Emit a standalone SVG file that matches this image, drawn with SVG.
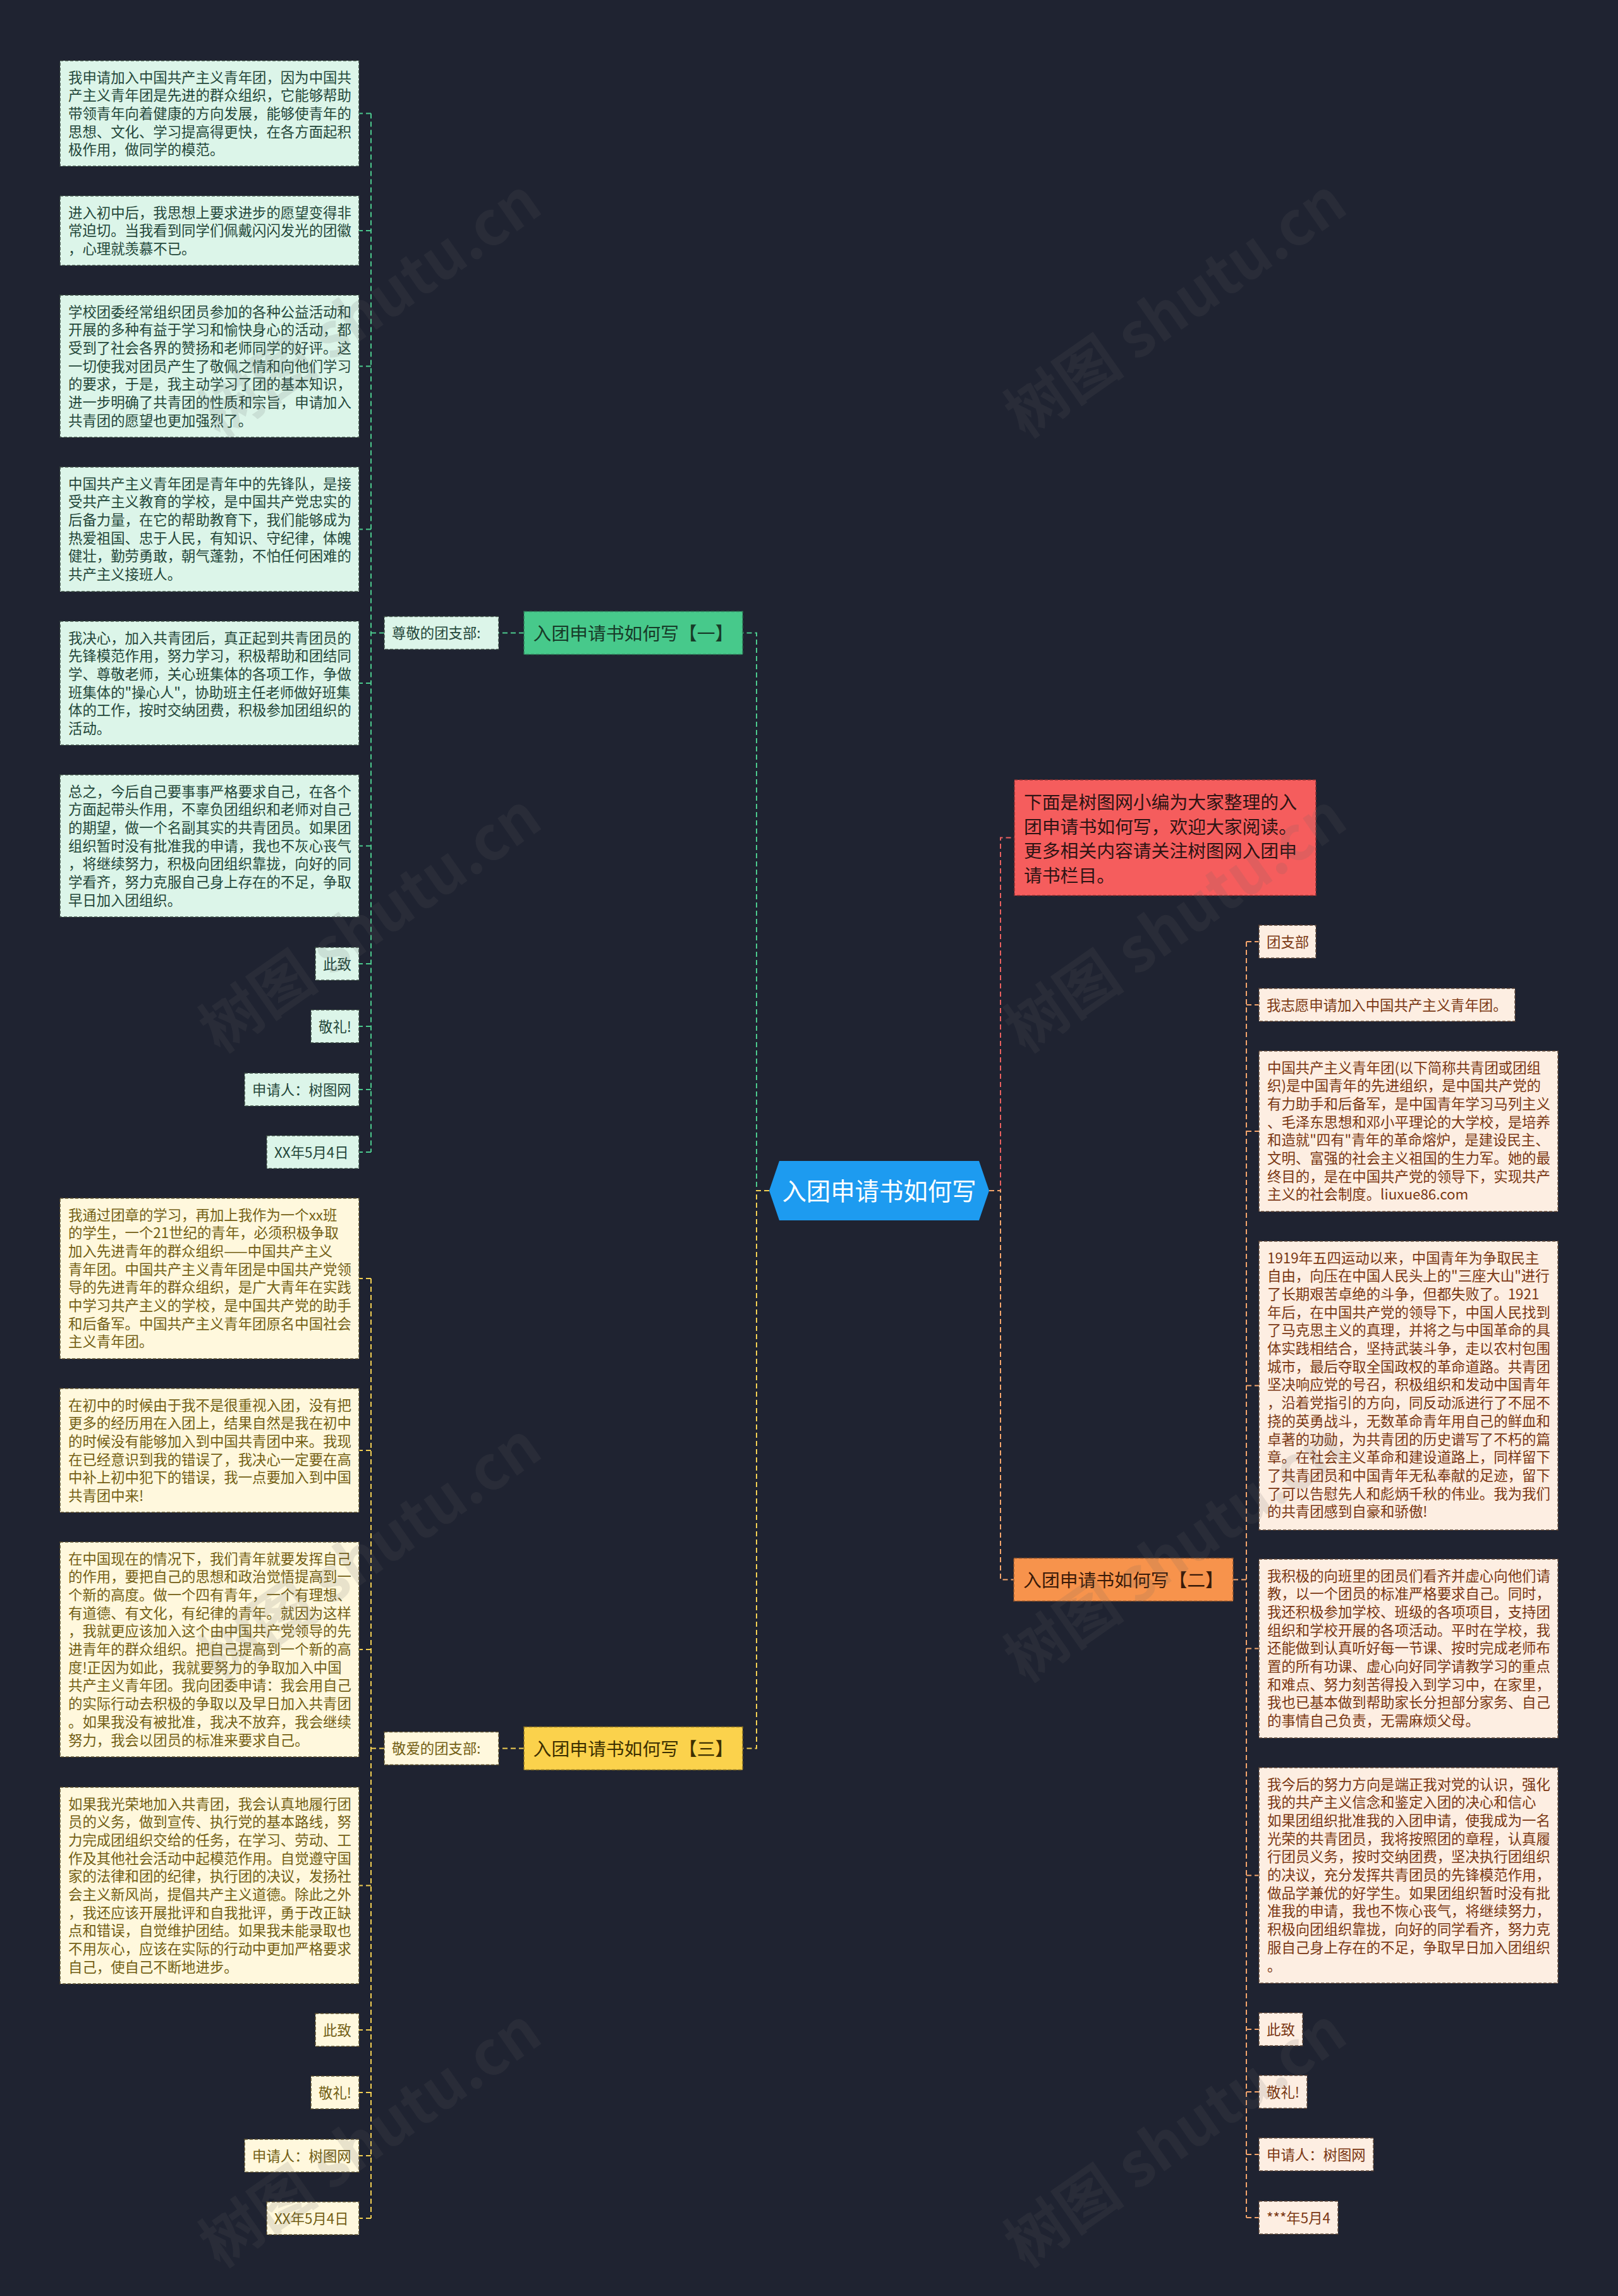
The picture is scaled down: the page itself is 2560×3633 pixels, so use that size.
<svg xmlns="http://www.w3.org/2000/svg" width="2560" height="3633" viewBox="0 0 2560 3633">
<style>
text{font-family:"Noto Sans CJK SC","Noto Sans",sans-serif;font-size:22.4px}
.bg{fill:#1f2331}
.ng rect{fill:#dcf5e9;stroke:#3a4a42;stroke-width:1.5;stroke-dasharray:5 3}
.ng text{fill:#24473a}
.ny rect{fill:#fff8dd;stroke:#5a4e2c;stroke-width:1.5;stroke-dasharray:5 3}
.ny text{fill:#735f14}
.no rect{fill:#fdeee2;stroke:#5e4536;stroke-width:1.5;stroke-dasharray:5 3}
.no text{fill:#7a3712}
.b1 rect{fill:#47c98b;stroke:#2f7a56;stroke-width:1.5;stroke-dasharray:5 3}
.b1 text{fill:#173a28;font-size:28.8px}
.b2 rect{fill:#f7934c;stroke:#8a5028;stroke-width:1.5;stroke-dasharray:5 3}
.b2 text{fill:#3a1a08;font-size:28.8px}
.b3 rect{fill:#fbd24c;stroke:#8a7220;stroke-width:1.5;stroke-dasharray:5 3}
.b3 text{fill:#3d3000;font-size:28.8px}
.intro rect{fill:#f55d5d;stroke:#8a2f2f;stroke-width:1.5;stroke-dasharray:5 3}
.intro text{fill:#2e1414;font-size:28.8px}
.c polygon{fill:#1d9bf0}
.c text{fill:#ffffff;font-size:38.4px}
.ln{fill:none;stroke-width:2;stroke-dasharray:8 5}
.lg{stroke:#4cc98d}.ly{stroke:#f2cf53}.lo{stroke:#f4a56c}.lr{stroke:#e86060}
.wm text{fill:#666;opacity:0.14;font-size:96px;font-weight:bold}
</style>
<rect class="bg" x="0" y="0" width="2560" height="3633"/>

<g id="connectors">
<path class="ln lg" d="M1217,1884 H1197 V1001.5 H1175 M829,1001.5 H789 M608,1001.5 H587 M587,179.5 V1823 M587,179.5 H568 M587,365 H568 M587,579.5 H568 M587,837.5 H568 M587,1081 H568 M587,1338.5 H568 M587,1525 H568 M587,1624 H568 M587,1724 H568 M587,1823 H568"/>
<path class="ln ly" d="M1217,1884 H1197 V2766.5 H1175 M829,2766.5 H789 M608,2766.5 H587 M587,2023 V3510 M587,2023 H568 M587,2295 H568 M587,2610 H568 M587,2983.5 H568 M587,3212 H568 M587,3311 H568 M587,3411 H568 M587,3510 H568"/>
<path class="ln lr" d="M1565,1884 H1583 V1325.5 H1605"/>
<path class="ln lo" d="M1565,1884 H1583 V2499.5 H1604 M1951,2499.5 H1972 M1972,1490 V3509 M1972,1490 H1992 M1972,1590 H1992 M1972,1790 H1992 M1972,2192.5 H1992 M1972,2608.5 H1992 M1972,2967.5 H1992 M1972,3211 H1992 M1972,3310 H1992 M1972,3409 H1992 M1972,3509 H1992"/>
</g>

<g id="center" class="c">
<polygon points="1217,1884 1233,1837 1549,1837 1565,1884 1549,1931 1233,1931"/>
<text x="1391" y="1898.5" text-anchor="middle">入团申请书如何写</text>
</g>

<g id="intro" class="intro">
<rect x="1605" y="1234" width="477" height="183"/>
<text x="1620" y="1280"><tspan x="1620">下面是树图网小编为大家整理的入</tspan><tspan x="1620" dy="38.6">团申请书如何写，欢迎大家阅读。</tspan><tspan x="1620" dy="38.6">更多相关内容请关注树图网入团申</tspan><tspan x="1620" dy="38.6">请书栏目。</tspan></text>
</g>

<g id="branch1" class="b1">
<rect x="829" y="967.5" width="346" height="68"/>
<text x="1002" y="1012.5" text-anchor="middle">入团申请书如何写【一】</text>
</g>
<g id="label1" class="ng">
<rect x="608" y="975.5" width="181" height="52"/>
<text x="620" y="1010">尊敬的团支部:</text>
</g>

<g id="g1" class="ng"><rect x="95" y="96" width="473" height="167"/>
<text x="108" y="130.5"><tspan x="108">我申请加入中国共产主义青年团，因为中国共</tspan><tspan x="108" dy="28.7">产主义青年团是先进的群众组织，它能够帮助</tspan><tspan x="108" dy="28.7">带领青年向着健康的方向发展，能够使青年的</tspan><tspan x="108" dy="28.7">思想、文化、学习提高得更快，在各方面起积</tspan><tspan x="108" dy="28.7">极作用，做同学的模范。</tspan></text></g>
<g id="g2" class="ng"><rect x="95" y="310" width="473" height="110"/>
<text x="108" y="344.5"><tspan x="108">进入初中后，我思想上要求进步的愿望变得非</tspan><tspan x="108" dy="28.7">常迫切。当我看到同学们佩戴闪闪发光的团徽</tspan><tspan x="108" dy="28.7">，心理就羡慕不已。</tspan></text></g>
<g id="g3" class="ng"><rect x="95" y="467" width="473" height="225"/>
<text x="108" y="501.5"><tspan x="108">学校团委经常组织团员参加的各种公益活动和</tspan><tspan x="108" dy="28.7">开展的多种有益于学习和愉快身心的活动，都</tspan><tspan x="108" dy="28.7">受到了社会各界的赞扬和老师同学的好评。这</tspan><tspan x="108" dy="28.7">一切使我对团员产生了敬佩之情和向他们学习</tspan><tspan x="108" dy="28.7">的要求，于是，我主动学习了团的基本知识，</tspan><tspan x="108" dy="28.7">进一步明确了共青团的性质和宗旨，申请加入</tspan><tspan x="108" dy="28.7">共青团的愿望也更加强烈了。</tspan></text></g>
<g id="g4" class="ng"><rect x="95" y="739" width="473" height="197"/>
<text x="108" y="773.5"><tspan x="108">中国共产主义青年团是青年中的先锋队，是接</tspan><tspan x="108" dy="28.7">受共产主义教育的学校，是中国共产党忠实的</tspan><tspan x="108" dy="28.7">后备力量，在它的帮助教育下，我们能够成为</tspan><tspan x="108" dy="28.7">热爱祖国、忠于人民，有知识、守纪律，体魄</tspan><tspan x="108" dy="28.7">健壮，勤劳勇敢，朝气蓬勃，不怕任何困难的</tspan><tspan x="108" dy="28.7">共产主义接班人。</tspan></text></g>
<g id="g5" class="ng"><rect x="95" y="983" width="473" height="196"/>
<text x="108" y="1017.5"><tspan x="108">我决心，加入共青团后，真正起到共青团员的</tspan><tspan x="108" dy="28.7">先锋模范作用，努力学习，积极帮助和团结同</tspan><tspan x="108" dy="28.7">学、尊敬老师，关心班集体的各项工作，争做</tspan><tspan x="108" dy="28.7">班集体的"操心人"，协助班主任老师做好班集</tspan><tspan x="108" dy="28.7">体的工作，按时交纳团费，积极参加团组织的</tspan><tspan x="108" dy="28.7">活动。</tspan></text></g>
<g id="g6" class="ng"><rect x="95" y="1226" width="473" height="225"/>
<text x="108" y="1260.5"><tspan x="108">总之，今后自己要事事严格要求自己，在各个</tspan><tspan x="108" dy="28.7">方面起带头作用，不辜负团组织和老师对自己</tspan><tspan x="108" dy="28.7">的期望，做一个名副其实的共青团员。如果团</tspan><tspan x="108" dy="28.7">组织暂时没有批准我的申请，我也不灰心丧气</tspan><tspan x="108" dy="28.7">，将继续努力，积极向团组织靠拢，向好的同</tspan><tspan x="108" dy="28.7">学看齐，努力克服自己身上存在的不足，争取</tspan><tspan x="108" dy="28.7">早日加入团组织。</tspan></text></g>
<g id="g7" class="ng"><rect x="499" y="1499" width="69" height="52"/><text x="511" y="1533.5">此致</text></g>
<g id="g8" class="ng"><rect x="492" y="1598" width="76" height="52"/><text x="504" y="1632.5">敬礼!</text></g>
<g id="g9" class="ng"><rect x="387" y="1698" width="181" height="52"/><text x="399" y="1732.5">申请人：树图网</text></g>
<g id="g10" class="ng"><rect x="422" y="1797" width="146" height="52"/><text x="434" y="1831.5">XX年5月4日</text></g>

<g id="branch3" class="b3">
<rect x="829" y="2732.5" width="346" height="68"/>
<text x="1002" y="2777.5" text-anchor="middle">入团申请书如何写【三】</text>
</g>
<g id="label3" class="ny">
<rect x="608" y="2740.5" width="181" height="52"/>
<text x="620" y="2775">敬爱的团支部:</text>
</g>

<g id="y1" class="ny"><rect x="95" y="1896" width="473" height="254"/>
<text x="108" y="1930.5"><tspan x="108">我通过团章的学习，再加上我作为一个xx班</tspan><tspan x="108" dy="28.7">的学生，一个21世纪的青年，必须积极争取</tspan><tspan x="108" dy="28.7">加入先进青年的群众组织——中国共产主义</tspan><tspan x="108" dy="28.7">青年团。中国共产主义青年团是中国共产党领</tspan><tspan x="108" dy="28.7">导的先进青年的群众组织，是广大青年在实践</tspan><tspan x="108" dy="28.7">中学习共产主义的学校，是中国共产党的助手</tspan><tspan x="108" dy="28.7">和后备军。中国共产主义青年团原名中国社会</tspan><tspan x="108" dy="28.7">主义青年团。</tspan></text></g>
<g id="y2" class="ny"><rect x="95" y="2197" width="473" height="196"/>
<text x="108" y="2231.5"><tspan x="108">在初中的时候由于我不是很重视入团，没有把</tspan><tspan x="108" dy="28.7">更多的经历用在入团上，结果自然是我在初中</tspan><tspan x="108" dy="28.7">的时候没有能够加入到中国共青团中来。我现</tspan><tspan x="108" dy="28.7">在已经意识到我的错误了，我决心一定要在高</tspan><tspan x="108" dy="28.7">中补上初中犯下的错误，我一点要加入到中国</tspan><tspan x="108" dy="28.7">共青团中来!</tspan></text></g>
<g id="y3" class="ny"><rect x="95" y="2440" width="473" height="340"/>
<text x="108" y="2474.5"><tspan x="108">在中国现在的情况下，我们青年就要发挥自己</tspan><tspan x="108" dy="28.7">的作用，要把自己的思想和政治觉悟提高到一</tspan><tspan x="108" dy="28.7">个新的高度。做一个四有青年，一个有理想、</tspan><tspan x="108" dy="28.7">有道德、有文化，有纪律的青年。就因为这样</tspan><tspan x="108" dy="28.7">，我就更应该加入这个由中国共产党领导的先</tspan><tspan x="108" dy="28.7">进青年的群众组织。把自己提高到一个新的高</tspan><tspan x="108" dy="28.7">度!正因为如此，我就要努力的争取加入中国</tspan><tspan x="108" dy="28.7">共产主义青年团。我向团委申请：我会用自己</tspan><tspan x="108" dy="28.7">的实际行动去积极的争取以及早日加入共青团</tspan><tspan x="108" dy="28.7">。如果我没有被批准，我决不放弃，我会继续</tspan><tspan x="108" dy="28.7">努力，我会以团员的标准来要求自己。</tspan></text></g>
<g id="y4" class="ny"><rect x="95" y="2828" width="473" height="311"/>
<text x="108" y="2862.5"><tspan x="108">如果我光荣地加入共青团，我会认真地履行团</tspan><tspan x="108" dy="28.7">员的义务，做到宣传、执行党的基本路线，努</tspan><tspan x="108" dy="28.7">力完成团组织交给的任务，在学习、劳动、工</tspan><tspan x="108" dy="28.7">作及其他社会活动中起模范作用。自觉遵守国</tspan><tspan x="108" dy="28.7">家的法律和团的纪律，执行团的决议，发扬社</tspan><tspan x="108" dy="28.7">会主义新风尚，提倡共产主义道德。除此之外</tspan><tspan x="108" dy="28.7">，我还应该开展批评和自我批评，勇于改正缺</tspan><tspan x="108" dy="28.7">点和错误，自觉维护团结。如果我未能录取也</tspan><tspan x="108" dy="28.7">不用灰心，应该在实际的行动中更加严格要求</tspan><tspan x="108" dy="28.7">自己，使自己不断地进步。</tspan></text></g>
<g id="y5" class="ny"><rect x="499" y="3186" width="69" height="52"/><text x="511" y="3220.5">此致</text></g>
<g id="y6" class="ny"><rect x="492" y="3285" width="76" height="52"/><text x="504" y="3319.5">敬礼!</text></g>
<g id="y7" class="ny"><rect x="387" y="3385" width="181" height="52"/><text x="399" y="3419.5">申请人：树图网</text></g>
<g id="y8" class="ny"><rect x="422" y="3484" width="146" height="52"/><text x="434" y="3518.5">XX年5月4日</text></g>

<g id="branch2" class="b2">
<rect x="1604" y="2465.5" width="347" height="68"/>
<text x="1777.5" y="2510.5" text-anchor="middle">入团申请书如何写【二】</text>
</g>

<g id="o1" class="no"><rect x="1992" y="1464" width="90" height="52"/><text x="2004" y="1498.5">团支部</text></g>
<g id="o2" class="no"><rect x="1992" y="1564" width="405" height="52"/><text x="2004" y="1598.5">我志愿申请加入中国共产主义青年团。</text></g>
<g id="o3" class="no"><rect x="1992" y="1663" width="473" height="254"/>
<text x="2005" y="1697.5"><tspan x="2005">中国共产主义青年团(以下简称共青团或团组</tspan><tspan x="2005" dy="28.7">织)是中国青年的先进组织，是中国共产党的</tspan><tspan x="2005" dy="28.7">有力助手和后备军，是中国青年学习马列主义</tspan><tspan x="2005" dy="28.7">、毛泽东思想和邓小平理论的大学校，是培养</tspan><tspan x="2005" dy="28.7">和造就"四有"青年的革命熔炉，是建设民主、</tspan><tspan x="2005" dy="28.7">文明、富强的社会主义祖国的生力军。她的最</tspan><tspan x="2005" dy="28.7">终目的，是在中国共产党的领导下，实现共产</tspan><tspan x="2005" dy="28.7">主义的社会制度。liuxue86.com</tspan></text></g>
<g id="o4" class="no"><rect x="1992" y="1964" width="473" height="457"/>
<text x="2005" y="1998.5"><tspan x="2005">1919年五四运动以来，中国青年为争取民主</tspan><tspan x="2005" dy="28.7">自由，向压在中国人民头上的"三座大山"进行</tspan><tspan x="2005" dy="28.7">了长期艰苦卓绝的斗争，但都失败了。1921</tspan><tspan x="2005" dy="28.7">年后，在中国共产党的领导下，中国人民找到</tspan><tspan x="2005" dy="28.7">了马克思主义的真理，并将之与中国革命的具</tspan><tspan x="2005" dy="28.7">体实践相结合，坚持武装斗争，走以农村包围</tspan><tspan x="2005" dy="28.7">城市，最后夺取全国政权的革命道路。共青团</tspan><tspan x="2005" dy="28.7">坚决响应党的号召，积极组织和发动中国青年</tspan><tspan x="2005" dy="28.7">，沿着党指引的方向，同反动派进行了不屈不</tspan><tspan x="2005" dy="28.7">挠的英勇战斗，无数革命青年用自己的鲜血和</tspan><tspan x="2005" dy="28.7">卓著的功勋，为共青团的历史谱写了不朽的篇</tspan><tspan x="2005" dy="28.7">章。在社会主义革命和建设道路上，同样留下</tspan><tspan x="2005" dy="28.7">了共青团员和中国青年无私奉献的足迹，留下</tspan><tspan x="2005" dy="28.7">了可以告慰先人和彪炳千秋的伟业。我为我们</tspan><tspan x="2005" dy="28.7">的共青团感到自豪和骄傲!</tspan></text></g>
<g id="o5" class="no"><rect x="1992" y="2467" width="473" height="283"/>
<text x="2005" y="2501.5"><tspan x="2005">我积极的向班里的团员们看齐并虚心向他们请</tspan><tspan x="2005" dy="28.7">教，以一个团员的标准严格要求自己。同时，</tspan><tspan x="2005" dy="28.7">我还积极参加学校、班级的各项项目，支持团</tspan><tspan x="2005" dy="28.7">组织和学校开展的各项活动。平时在学校，我</tspan><tspan x="2005" dy="28.7">还能做到认真听好每一节课、按时完成老师布</tspan><tspan x="2005" dy="28.7">置的所有功课、虚心向好同学请教学习的重点</tspan><tspan x="2005" dy="28.7">和难点、努力刻苦得投入到学习中，在家里，</tspan><tspan x="2005" dy="28.7">我也已基本做到帮助家长分担部分家务、自己</tspan><tspan x="2005" dy="28.7">的事情自己负责，无需麻烦父母。</tspan></text></g>
<g id="o6" class="no"><rect x="1992" y="2797" width="473" height="341"/>
<text x="2005" y="2831.5"><tspan x="2005">我今后的努力方向是端正我对党的认识，强化</tspan><tspan x="2005" dy="28.7">我的共产主义信念和鉴定入团的决心和信心</tspan><tspan x="2005" dy="28.7">如果团组织批准我的入团申请，使我成为一名</tspan><tspan x="2005" dy="28.7">光荣的共青团员，我将按照团的章程，认真履</tspan><tspan x="2005" dy="28.7">行团员义务，按时交纳团费，坚决执行团组织</tspan><tspan x="2005" dy="28.7">的决议，充分发挥共青团员的先锋模范作用，</tspan><tspan x="2005" dy="28.7">做品学兼优的好学生。如果团组织暂时没有批</tspan><tspan x="2005" dy="28.7">准我的申请，我也不恢心丧气，将继续努力，</tspan><tspan x="2005" dy="28.7">积极向团组织靠拢，向好的同学看齐，努力克</tspan><tspan x="2005" dy="28.7">服自己身上存在的不足，争取早日加入团组织</tspan><tspan x="2005" dy="28.7">。</tspan></text></g>
<g id="o7" class="no"><rect x="1992" y="3185" width="69" height="52"/><text x="2004" y="3219.5">此致</text></g>
<g id="o8" class="no"><rect x="1992" y="3284" width="76" height="52"/><text x="2004" y="3318.5">敬礼!</text></g>
<g id="o9" class="no"><rect x="1992" y="3383" width="181" height="52"/><text x="2004" y="3417.5">申请人：树图网</text></g>
<g id="o10" class="no"><rect x="1992" y="3483" width="125" height="52"/><text x="2004" y="3517.5">***年5月4</text></g>

<g id="watermarks" class="wm">
<text transform="translate(348,695) rotate(-35)">树图 shutu.cn</text>
<text transform="translate(1622,695) rotate(-35)">树图 shutu.cn</text>
<text transform="translate(348,1668) rotate(-35)">树图 shutu.cn</text>
<text transform="translate(1622,1668) rotate(-35)">树图 shutu.cn</text>
<text transform="translate(348,2664) rotate(-35)">树图 shutu.cn</text>
<text transform="translate(1622,2664) rotate(-35)">树图 shutu.cn</text>
<text transform="translate(348,3590) rotate(-35)">树图 shutu.cn</text>
<text transform="translate(1622,3590) rotate(-35)">树图 shutu.cn</text>
</g>
</svg>
